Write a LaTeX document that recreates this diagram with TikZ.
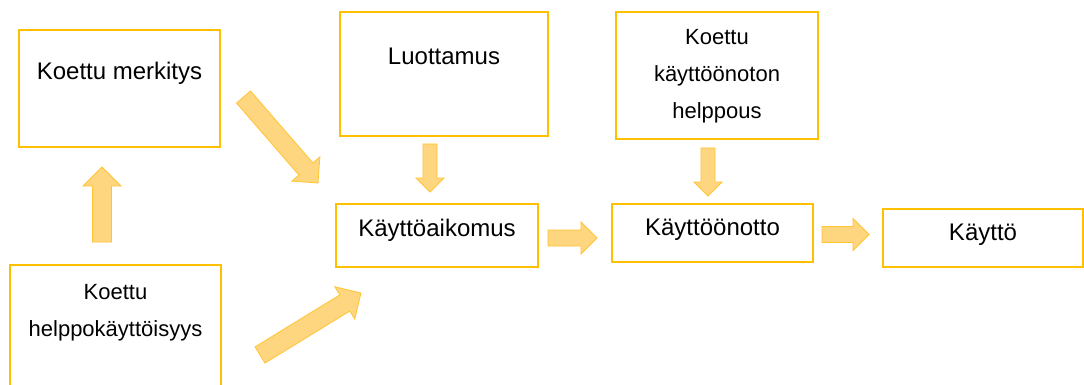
\documentclass[tikz,border=0pt]{standalone}
\usepackage{fontspec}
\setmainfont{Liberation Sans}
\usetikzlibrary{calc,positioning}
\definecolor{boxgold}{RGB}{255,192,0}
\definecolor{arrowpeach}{RGB}{255,214,128}
\definecolor{arrowedge}{RGB}{255,196,50}
\tikzset{
  laatikko/.style={
    draw=boxgold,
    line width=1.8pt,
    anchor=north west,
    outer sep=0pt,
    inner sep=0pt
  },
  teksti/.style={
    font=\fontsize{24}{29}\selectfont,
    inner sep=0pt,
    anchor=base
  },
  pieni/.style={
    font=\fontsize{22}{37}\selectfont,
    align=center,
    inner sep=0pt,
    anchor=base
  },
  nuoli/.style={
    fill=arrowpeach,
    draw=arrowedge,
    line width=0.8pt
  }
}
\newcommand{\blocknuoli}[3]{%
  \path ($(#2)!#3!(#1)$) coordinate (hb);
  \draw[nuoli] ($(#1)!#3/2!90:(#2)$) -- ($(hb)!#3/2!-90:(#1)$) -- ($(hb)!#3!-90:(#1)$) -- (#2)
    -- ($(hb)!#3!90:(#1)$) -- ($(hb)!#3/2!90:(#1)$) -- ($(#1)!#3/2!-90:(#2)$) -- cycle;}

\begin{document}
\begin{tikzpicture}[x=1pt,y=-1pt]
\useasboundingbox (0,0) rectangle (1084,385);
\clip (0,0) rectangle (1084,385);
\node[laatikko, minimum width=201pt, minimum height=117pt] (merk) at (19,30) {};
\node[laatikko, minimum width=208pt, minimum height=124pt] (luot) at (340,12) {};
\node[laatikko, minimum width=202pt, minimum height=127pt] (help) at (616,12) {};
\node[laatikko, minimum width=202pt, minimum height=63pt] (aik) at (336,204) {};
\node[laatikko, minimum width=201pt, minimum height=58pt] (otto) at (612,204) {};
\node[laatikko, minimum width=200pt, minimum height=58pt] (kaytto) at (883,209) {};
\node[laatikko, minimum width=211pt, minimum height=140pt] (hkay) at (10,265) {};
\node[teksti] (merk-t) at ($(merk.north)+(0,50)$) {Koettu merkitys};
\node[teksti] (luot-t) at ($(luot.north)+(0,53)$) {Luottamus};
\node[pieni] (help-t) at ($(help.north)+(0,107)$) {Koettu\\käyttöönoton\\helppous};
\node[teksti] (aik-t) at ($(aik.north)+(0,32)$) {Käyttöaikomus};
\node[teksti] (otto-t) at ($(otto.north)+(0,31)$) {Käyttöönotto};
\node[teksti] (kaytto-t) at ($(kaytto.north)+(0,31)$) {Käyttö};
\node[pieni] (hkay-t) at ($(hkay.north)+(0,71.5)$) {Koettu\\helppokäyttöisyys};
\coordinate (hk-ylos) at (102,242);
\coordinate (mk-ala) at (102,167);
\coordinate (mk-ulos) at (243.5,97);
\coordinate (ai-vasen) at (318,183);
\coordinate (hk-ulos) at (260,355);
\coordinate (ai-ala) at (361,293);
\coordinate (lu-ulos) at (430,144);
\coordinate (ai-yla) at (430,192);
\coordinate (he-ulos) at (708,148);
\coordinate (ot-yla) at (708,196);
\coordinate (ai-ulos) at (548,238);
\coordinate (ot-vasen) at (597,238);
\coordinate (ot-ulos) at (822,234.5);
\coordinate (ka-vasen) at (869,234.5);
\blocknuoli{hk-ylos}{mk-ala}{19pt}
\blocknuoli{mk-ulos}{ai-vasen}{18.5pt}
\blocknuoli{hk-ulos}{ai-ala}{19pt}
\blocknuoli{lu-ulos}{ai-yla}{14pt}
\blocknuoli{he-ulos}{ot-yla}{14pt}
\blocknuoli{ai-ulos}{ot-vasen}{16pt}
\blocknuoli{ot-ulos}{ka-vasen}{16pt}
\end{tikzpicture}
\end{document}
